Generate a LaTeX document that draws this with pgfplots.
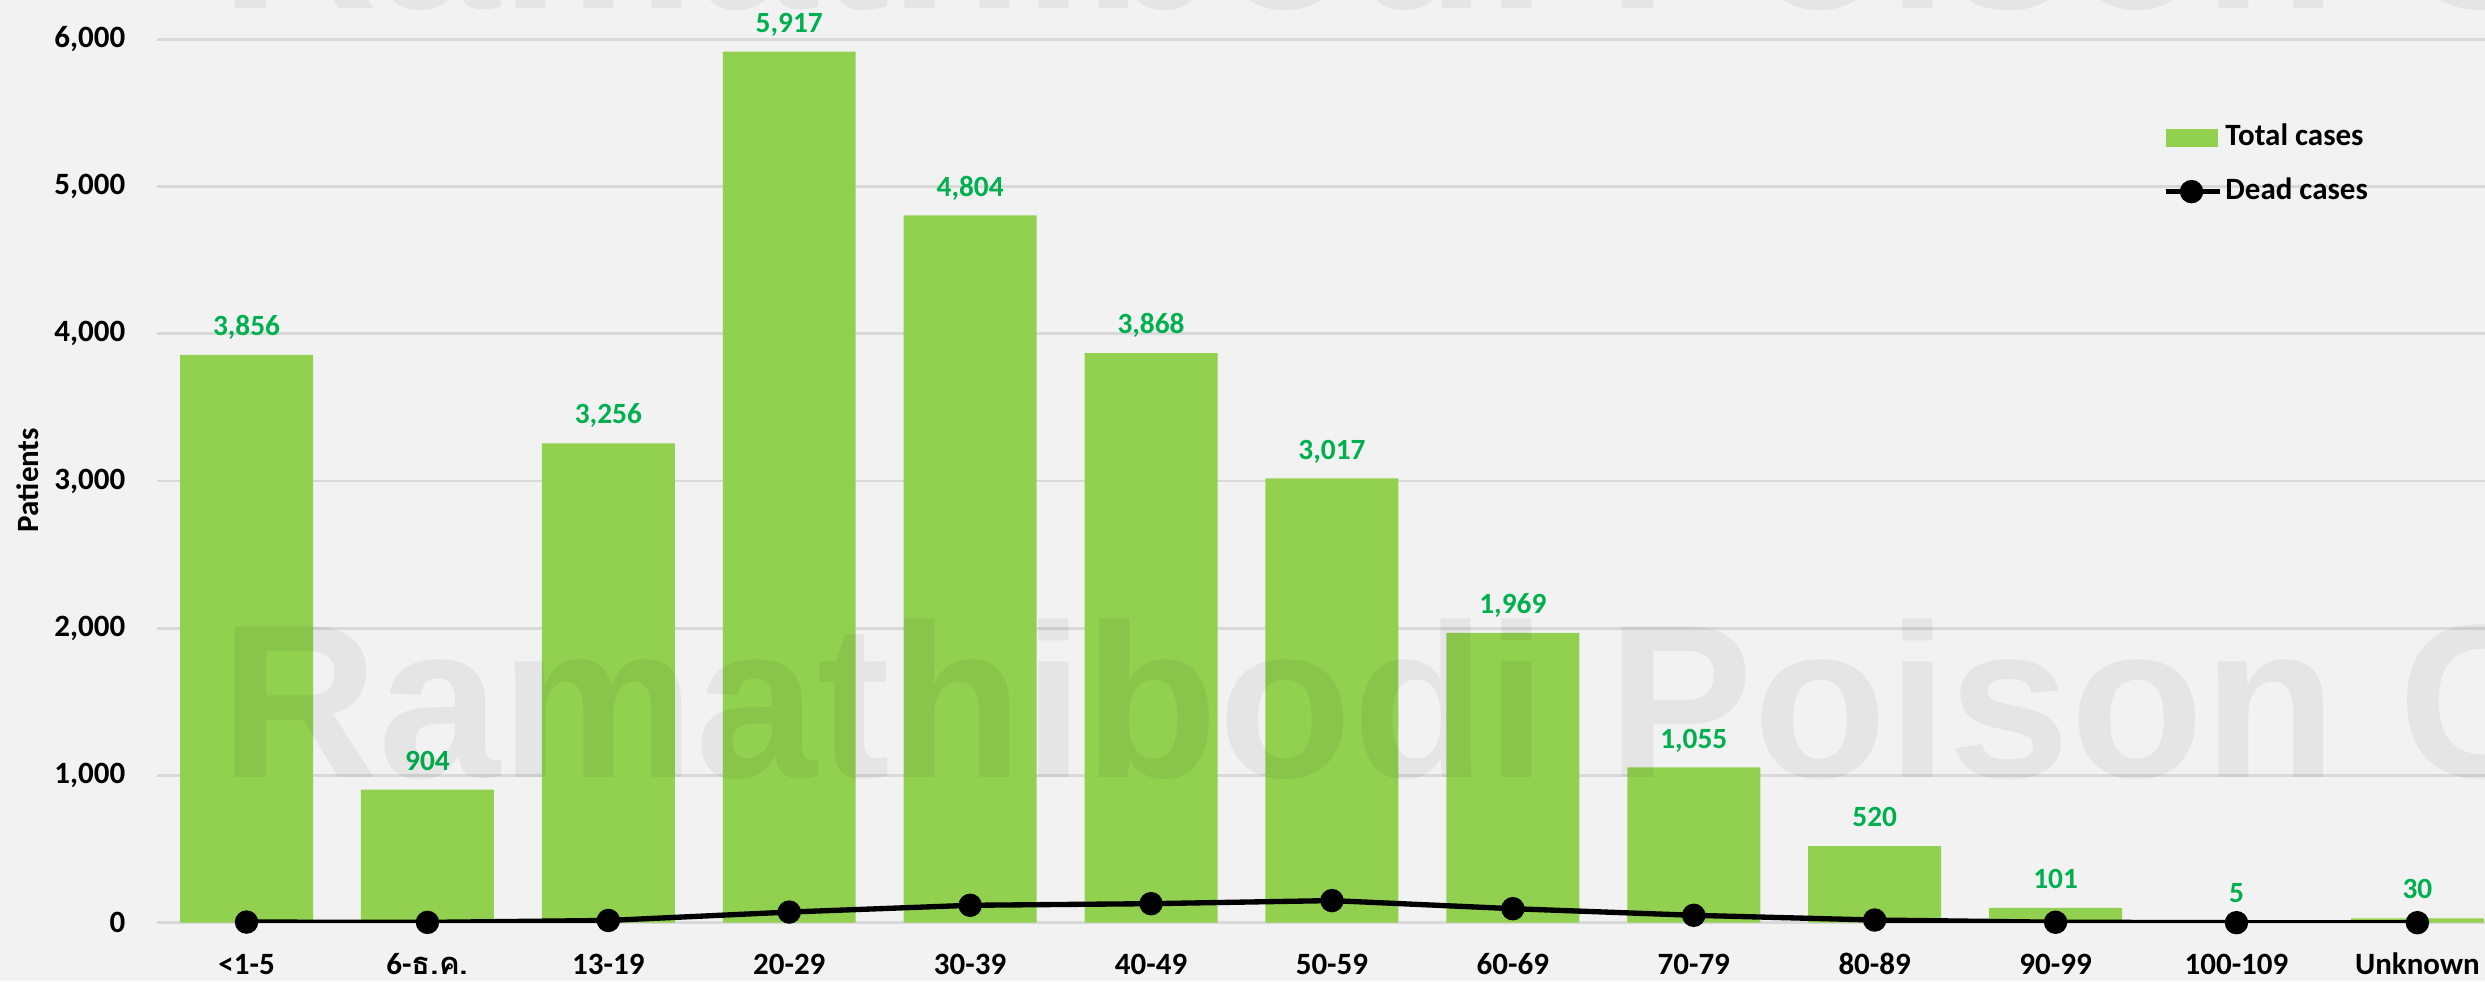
\documentclass[border=0pt]{standalone}
\usepackage{fontspec}
\setmainfont{Carlito}
\newfontfamily\thaifont[Script=Thai]{Loma}
\newfontfamily\wmfont{Liberation Sans}
\usepackage{pgfplots}
\pgfplotsset{compat=1.18}
\definecolor{bgc}{HTML}{F2F2F2}
\definecolor{barg}{HTML}{92D050}
\definecolor{labg}{HTML}{00B050}
\definecolor{gridc}{HTML}{D9D9D9}

\begin{document}
\begin{tikzpicture}
\fill[bgc] (-47.1pt,-17.5pt) rectangle (698.4pt,276.8pt);
\begin{axis}[
  scale only axis, width=698.4pt, height=276.8pt,
  xmin=-0.495, xmax=12.374, ymin=0, ymax=6267,
  axis line style={draw=none},
  major tick length=0pt,
  ymajorgrids, grid style={gridc, line width=0.8pt},
  ytick={0,1000,2000,3000,4000,5000,6000},
  scaled y ticks=false,
  /pgf/number format/.cd, 1000 sep={,}, assume math mode=true, /pgfplots/.cd,
  xtick={0,1,2,3,4,5,6,7,8,9,10,11,12},
  xticklabels={<1-5, 6-{\thaifont ธ.ค.}, 13-19, 20-29, 30-39, 40-49, 50-59, 60-69, 70-79, 80-89, 90-99, 100-109, Unknown},
  xticklabel style={anchor=base, yshift=-15.4pt, inner sep=0pt, font=\fontsize{9.3pt}{11pt}\selectfont\bfseries},
  yticklabel style={anchor=east, xshift=-9.3pt, inner sep=0pt, font=\fontsize{9.3pt}{11pt}\selectfont\bfseries},
  every axis y label/.style={at={(axis description cs:-0.0556,0.4798)}, rotate=90, anchor=center, font=\fontsize{9.3pt}{11pt}\selectfont\bfseries},
  ylabel={Patients},
  legend style={draw=none, fill=none, at={(0.8617,0.8707)}, anchor=north west, inner sep=0pt, outer sep=0pt,
    font=\fontsize{9.3pt}{11pt}\selectfont\bfseries, row sep=5.2pt,
    nodes={inner sep=1pt, text height=7pt, text depth=2pt}, cells={anchor=west}},
]
\addplot[ybar, bar width=0.735, fill=barg, draw=none,
  nodes near coords,
  every node near coord/.append style={anchor=base, yshift=5.8pt, inner sep=0pt, text=labg, font=\fontsize{8.8pt}{10pt}\selectfont\bfseries},
  legend image code/.code={\fill[barg] (0pt,-2.7pt) rectangle (15.6pt,2.7pt);}]
coordinates {(0,3856) (1,904) (2,3256) (3,5917) (4,4804) (5,3868) (6,3017) (7,1969) (8,1055) (9,520) (10,101) (11,5) (12,30)};
\addlegendentry{Total cases}
\addplot[black, line width=1.6pt, mark=*, mark size=2.7pt, mark options={fill=black},
  legend image code/.code={\draw[black, line width=1.5pt] (0pt,0pt) -- (16.2pt,0pt); \fill[black] (7.8pt,0pt) circle (2.7pt);}]
coordinates {(0,4) (1,2) (2,15) (3,72) (4,118) (5,129) (6,150) (7,95) (8,50) (9,18) (10,3) (11,0) (12,0)};
\addlegendentry{Dead cases}
\end{axis}
\node[anchor=base west, inner sep=0pt, text=black, text opacity=0.05, font=\wmfont\bfseries\fontsize{65.7pt}{70pt}\selectfont] at (18.9pt,43.7pt) {Ramathibodi Poison Center};
\node[anchor=base west, inner sep=0pt, text=black, text opacity=0.05, font=\wmfont\bfseries\fontsize{65.7pt}{70pt}\selectfont] at (18.9pt,274.1pt) {Ramathibodi Poison Center};
\pgfresetboundingbox
\useasboundingbox (-47.1pt,-17.5pt) rectangle (698.4pt,276.8pt);
\end{tikzpicture}
\end{document}
